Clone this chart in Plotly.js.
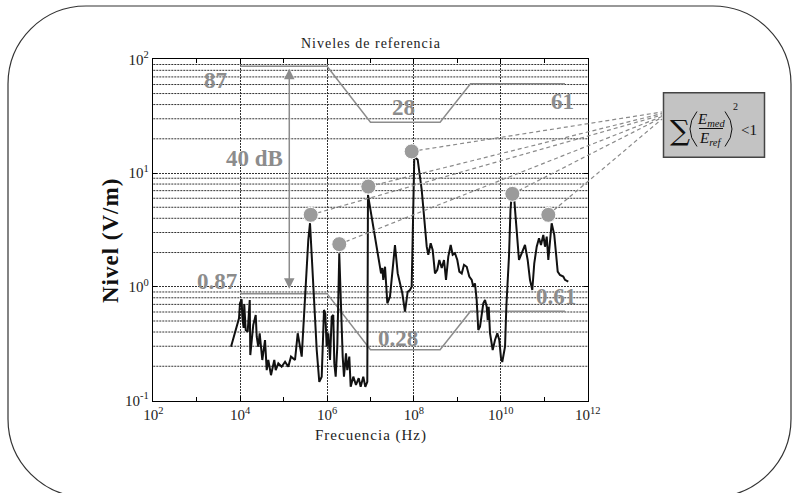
<!DOCTYPE html>
<html><head><meta charset="utf-8">
<script src="https://cdn.plot.ly/plotly-3.0.1.min.js"></script>
<style>html,body{margin:0;padding:0;background:#fff}#chart{width:792px;height:493px}</style>
</head><body><div id="chart"></div>
<script>
// ---- data (frequency in Hz, level in V/m) ----
const freqHz = [
  6.15e3, 8.3e3, 9.4e3, 9.9e3, 1.08e4, 1.12e4, 1.2e4, 1.24e4, 1.34e4, 1.49e4, 1.66e4, 1.71e4, 2.0e4, 2.28e4, 2.4e4, 2.61e4, 2.81e4, 3.23e4, 3.73e4, 4.08e4, 4.44e4, 5.12e4, 6.1e4, 6.58e4, 7.55e4, 9.0e4, 1.08e5, 1.28e5, 1.48e5, 1.83e5, 2.11e5, 2.61e5, 3.1e5, 3.7e5,
  4.05e5, 4.82e5, 5.78e5, 6.62e5, 7.53e5, 8.5e5, 9.1e5, 9.8e5, 1.07e6, 1.17e6, 1.28e6, 1.39e6, 1.47e6, 1.58e6, 1.72e6, 1.91e6, 2.06e6, 2.29e6, 2.45e6, 2.73e6, 2.92e6, 3.25e6, 3.5e6, 4.02e6, 4.63e6, 5.35e6, 5.94e6, 6.82e6, 7.59e6, 8.44e6,
  8.75e6, 1.07e7, 1.27e7, 1.51e7, 1.75e7, 1.87e7, 1.97e7, 2.16e7, 2.44e7, 2.81e7, 3.18e7, 3.66e7, 4.23e7, 4.78e7, 5.4e7, 6.22e7, 7.18e7, 8.11e7, 8.87e7, 1.02e8, 1.22e8, 1.51e8, 1.73e8, 1.97e8,
  2.14e8, 2.43e8, 2.7e8, 3.05e8, 3.45e8, 3.84e8, 4.36e8, 4.92e8, 5.47e8, 6.18e8, 7.02e8, 7.8e8, 8.81e8, 9.96e8, 1.11e9, 1.26e9, 1.42e9, 1.64e9, 1.88e9, 2.14e9, 2.32e9, 2.54e9, 2.78e9, 3.03e9, 3.32e9, 3.63e9, 3.95e9, 4.33e9, 4.73e9, 4.99e9, 5.26e9, 5.64e9, 6.5e9, 7.35e9, 8.3e9, 9.22e9, 1.01e10, 1.08e10, 1.25e10, 1.34e10, 1.44e10, 1.54e10, 1.67e10, 1.78e10,
  2.04e10, 2.32e10, 2.62e10, 3.02e10, 3.6e10, 4.15e10, 4.69e10, 5.3e10, 5.89e10, 6.7e10, 7.57e10, 8.41e10, 9.5e10, 1.04e11, 1.14e11, 1.24e11, 1.36e11, 1.48e11, 1.7e11, 1.93e11, 2.04e11, 2.3e11, 2.74e11, 3.0e11, 3.57e11
];
const levelVm = [
  0.297, 0.445, 0.528, 0.716, 0.776, 0.545, 0.434, 0.706, 0.417, 0.403, 0.765, 0.251, 0.461, 0.565, 0.364, 0.297, 0.390, 0.227, 0.340, 0.185, 0.227, 0.167, 0.227, 0.185, 0.212, 0.198, 0.219, 0.198, 0.243, 0.227, 0.390, 0.243, 0.765, 2.58,
  3.62, 1.07, 0.278, 0.146, 0.162, 0.625, 0.585, 0.297, 0.390, 0.227, 0.545, 0.565, 0.212, 0.162, 0.297, 1.97, 0.765, 0.243, 0.162, 0.260, 0.185, 0.243, 0.132, 0.162, 0.137, 0.157, 0.132, 0.162, 0.132, 0.146,
  6.43, 4.14, 2.76, 1.84, 1.31, 1.46, 1.15, 1.50, 0.716, 0.818, 1.31, 2.33, 1.31, 1.07, 0.877, 0.604, 0.905, 0.937, 1.0, 14.0, 13.1, 7.11, 3.62, 2.25,
  1.91, 2.41, 2.11, 1.31, 1.41, 1.72, 1.46, 1.72, 1.15, 1.84, 2.33, 1.91, 1.97, 1.72, 1.36, 1.31, 1.56, 1.50, 1.23, 1.15, 1.0, 1.07, 0.765, 0.417, 0.445, 0.585, 0.716, 0.765, 0.668, 0.510, 0.668, 0.390, 0.278, 0.340, 0.390, 0.340, 0.236, 0.218, 0.297, 0.668, 1.15, 1.84, 4.74, 6.43,
  5.81, 3.16, 1.72, 1.97, 2.33, 1.72, 1.15, 0.937, 1.61, 2.25, 2.67, 2.33, 2.86, 2.25, 2.76, 1.72, 2.76, 3.62, 2.86, 1.84, 1.36, 1.27, 1.23, 1.15, 1.11
];
const peakFreqHz = [4.2e5, 1.91e6, 8.9e6, 8.87e7, 1.84e10, 1.24e11];
const peakLevelVm = [4.29, 2.37, 7.6, 15.5, 6.56, 4.29];
const refFreqHz = [1e4, 1e6, 1e7, 4e8, 2e9, 3e11];
const refUpperVm = [87, 87, 28, 28, 61, 61];
const refLowerVm = [0.87, 0.87, 0.28, 0.28, 0.61, 0.61];
const refLabels = ['87', '28', '61', '0.87', '0.28', '0.61'];
const rangeArrowFreqHz = 1.35e5;
const rangeArrowVm = [0.96, 85];
const rangeLabel = '40 dB';
const xTickVals = [1e2, 1e4, 1e6, 1e8, 1e10, 1e12];
const xTickText = ['10<sup>2</sup>', '10<sup>4</sup>', '10<sup>6</sup>', '10<sup>8</sup>', '10<sup>10</sup>', '10<sup>12</sup>'];
const xMinorVals = [1e3, 1e5, 1e7, 1e9, 1e11];
const yTickVals = [0.1, 1, 10, 100];
const yTickText = ['10<sup>-1</sup>', '10<sup>0</sup>', '10<sup>1</sup>', '10<sup>2</sup>'];
const yMinorMultipliers = [2, 3, 4, 5, 6, 7, 8, 9];

// ---- layout geometry (pixels) ----
const W = 792, H = 493;
const box = {l: 153.3, r: 587.7, t: 59.3, b: 400.5};
const xr = [2, 12], yr = [-1, 2];
const ppx = (box.r - box.l) / (xr[1] - xr[0]);
const ppy = (box.b - box.t) / (yr[1] - yr[0]);
const x2r = [xr[0] - box.l / ppx, xr[1] + (W - box.r) / ppx];
const y2r = [yr[0] - (H - box.b) / ppy, yr[1] + box.t / ppy];
const px = x => x / W, py = y => 1 - y / H;
const x2FromPx = x => Math.pow(10, x2r[0] + px(x) * (x2r[1] - x2r[0]));
const y2FromPx = y => Math.pow(10, y2r[0] + py(y) * (y2r[1] - y2r[0]));

const serif = '"Liberation Serif", "Times New Roman", serif';
const gray = '#8c8c8c';
const gridColor = '#333';
const gridDash = '2px,1px';

const traces = [];
traces.push({x: refFreqHz, y: refUpperVm, xaxis: 'x', yaxis: 'y', mode: 'lines', line: {color: gray, width: 1.5}, hoverinfo: 'skip'});
traces.push({x: refFreqHz, y: refLowerVm, xaxis: 'x', yaxis: 'y', mode: 'lines', line: {color: gray, width: 1.5}, hoverinfo: 'skip'});
traces.push({x: freqHz, y: levelVm, xaxis: 'x', yaxis: 'y', mode: 'lines', line: {color: '#111', width: 2}});

// dashed connectors from each peak to the formula box (full-figure overlay axes, same scale)
const linkEndX = 662;
const linkEndY = [115, 116.5, 113.5, 112, 117.5, 119];
peakFreqHz.forEach((f, i) => {
  traces.push({x: [f, x2FromPx(linkEndX)], y: [peakLevelVm[i], y2FromPx(linkEndY[i])], xaxis: 'x2', yaxis: 'y2',
    mode: 'lines', line: {color: '#8a8a8a', width: 1.2, dash: '4px,3px'}, hoverinfo: 'skip'});
});
traces.push({x: peakFreqHz, y: peakLevelVm, xaxis: 'x2', yaxis: 'y2', mode: 'markers',
  marker: {size: 15, color: '#9b9b9b', line: {color: '#ffffff', width: 1}}});

// outer rounded frame
const L = 8, T = 6, R = 791, B = 497, rr = 78, kk = 0.5523 * rr;
const P = (x, y) => px(x).toFixed(5) + ',' + py(y).toFixed(5);
const framePath = 'M' + P(L, T + rr) + ' C' + P(L, T + rr - kk) + ' ' + P(L + rr - kk, T) + ' ' + P(L + rr, T) +
  ' L' + P(R - rr, T) + ' C' + P(R - rr + kk, T) + ' ' + P(R, T + rr - kk) + ' ' + P(R, T + rr) +
  ' L' + P(R, B - rr) + ' C' + P(R, B - rr + kk) + ' ' + P(R - rr + kk, B) + ' ' + P(R - rr, B) +
  ' L' + P(L + rr, B) + ' C' + P(L + rr - kk, B) + ' ' + P(L, B - rr + kk) + ' ' + P(L, B - rr) + ' Z';

const shapes = [];
// minor horizontal gridlines (2..9 of each decade)
yTickVals.slice(0, 3).forEach(d => yMinorMultipliers.forEach(k => shapes.push({type: 'line', xref: 'x domain', yref: 'y',
  x0: 0, x1: 1, y0: d * k, y1: d * k, layer: 'below', line: {color: gridColor, width: 1, dash: gridDash}})));
shapes.push(
  {type: 'path', xref: 'paper', yref: 'paper', path: framePath, line: {color: '#333', width: 1.2}},
  {type: 'rect', xref: 'paper', yref: 'paper', x0: px(663.5), x1: px(764.5), y0: py(157.3), y1: py(92.7), fillcolor: '#c3c3c3', line: {color: '#444', width: 1.5}},
  {type: 'line', xref: 'paper', yref: 'paper', x0: px(699), x1: px(723), y0: py(128.5), y1: py(128.5), line: {color: '#111', width: 1}},
  {type: 'path', xref: 'paper', yref: 'paper', path: 'M' + P(697, 111.5) + ' Q' + P(683, 129) + ' ' + P(697, 146.5), line: {color: '#111', width: 1}},
  {type: 'path', xref: 'paper', yref: 'paper', path: 'M' + P(725, 111.5) + ' Q' + P(739, 129) + ' ' + P(725, 146.5), line: {color: '#111', width: 1}}
);

const A = (text, x, y, size, opts) => Object.assign({text: text, xref: 'paper', yref: 'paper', x: px(x), y: py(y),
  xanchor: 'center', yanchor: 'middle', showarrow: false, font: {family: serif, size: size, color: '#111'}}, opts || {});
const boldGray = {font: {family: serif, size: 23, color: gray, weight: 'bold'}};
const labelPos = [[216, 80], [404, 108], [562, 102], [217, 281], [398, 338], [556, 296]];
const annotations = [
  A('<span style="letter-spacing:1px">Niveles de referencia</span>', 371, 44, 14, {font: {family: serif, size: 14, color: '#222'}}),
  A('<span style="letter-spacing:1px">Frecuencia (Hz)</span>', 371, 435, 15, {font: {family: serif, size: 15, color: '#222'}}),
  A('<span style="letter-spacing:1px"><b>Nivel (V/m)</b></span>', 110, 241, 23, {textangle: -90, font: {family: serif, size: 23, color: '#111'}}),
  A('<b>' + rangeLabel + '</b>', 254, 158, 23, boldGray)
];
refLabels.forEach((t, i) => annotations.push(A('<b>' + t + '</b>', labelPos[i][0], labelPos[i][1], 23, boldGray)));
annotations.push({xref: 'x', yref: 'y', axref: 'x', ayref: 'y', x: Math.log10(rangeArrowFreqHz), y: Math.log10(rangeArrowVm[0]),
  ax: Math.log10(rangeArrowFreqHz), ay: Math.log10(rangeArrowVm[1]), text: '', showarrow: true, arrowside: 'end+start',
  arrowhead: 2, startarrowhead: 2, arrowsize: 1.4, startarrowsize: 1.4, arrowwidth: 1.5, arrowcolor: gray});
// formula
annotations.push(A('∑', 680, 130, 28, {font: {family: '"DejaVu Serif", serif', size: 28, color: '#111'}}));
annotations.push(A('<i>E</i><sub><i>med</i></sub>', 711, 120, 15));
annotations.push(A('<i>E</i><sub><i>ref</i></sub>', 711, 139, 15));
annotations.push(A('2', 735, 106, 10));
annotations.push(A('&lt;1', 749, 130, 15));

const axFont = {family: serif, size: 15, color: '#222'};
const layout = {
  width: W, height: H, margin: {l: 0, r: 0, t: 0, b: 0}, autosize: false,
  paper_bgcolor: '#fff', plot_bgcolor: 'rgba(0,0,0,0)', showlegend: false,
  xaxis: {type: 'log', range: xr, domain: [box.l / W, box.r / W], anchor: 'y', tickmode: 'array', tickvals: xTickVals, ticktext: xTickText,
    ticks: 'inside', ticklen: 5, tickcolor: '#000', showline: true, linecolor: '#000', linewidth: 1.5, mirror: 'ticks',
    showgrid: true, gridcolor: gridColor, gridwidth: 1, griddash: gridDash, zeroline: false, tickfont: axFont, fixedrange: true,
    minor: {tickmode: 'array', tickvals: xMinorVals, ticks: 'inside', ticklen: 4, tickcolor: '#000', showgrid: false}},
  yaxis: {type: 'log', range: yr, domain: [(H - box.b) / H, (H - box.t) / H], anchor: 'x', tickmode: 'array', tickvals: yTickVals, ticktext: yTickText,
    ticks: 'inside', ticklen: 4, tickcolor: '#000', showline: true, linecolor: '#000', linewidth: 1.5, mirror: 'ticks',
    showgrid: true, gridcolor: gridColor, gridwidth: 1, griddash: gridDash, zeroline: false, tickfont: axFont, fixedrange: true},
  xaxis2: {type: 'log', range: x2r, domain: [0, 1], anchor: 'y2', visible: false, fixedrange: true},
  yaxis2: {type: 'log', range: y2r, domain: [0, 1], anchor: 'x2', visible: false, fixedrange: true},
  shapes: shapes, annotations: annotations
};
Plotly.newPlot('chart', traces, layout, {displayModeBar: false, staticPlot: true});
</script></body></html>
